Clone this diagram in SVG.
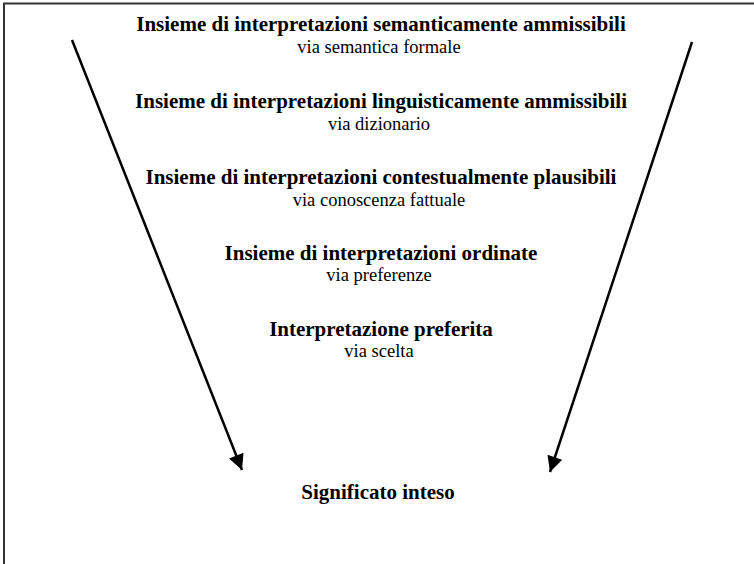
<svg xmlns="http://www.w3.org/2000/svg" width="754" height="564" viewBox="0 0 754 564">
<defs>
<style>
text{font-family:"Liberation Serif","Times New Roman",serif;fill:#000;text-anchor:middle}
.t{font-weight:bold;font-size:21px}
.s{font-size:18.5px}
.c{stroke:#000;stroke-width:2.5;fill:none}
</style>
<marker id="ah" viewBox="0 0 10 10" refX="10" refY="5" markerWidth="7" markerHeight="6.2" markerUnits="strokeWidth" orient="auto">
<path d="M0,0 L10,5 L0,10 z" fill="#000"/>
</marker>
</defs>
<rect width="754" height="564" fill="#fff"/>
<path d="M4,564 V3.5 H754" stroke="#333" stroke-width="2" fill="none"/>
<g id="connectors">
<line class="c" x1="72" y1="40" x2="242" y2="470" marker-end="url(#ah)"/>
<line class="c" x1="692" y1="42" x2="550" y2="472" marker-end="url(#ah)"/>
</g>
<g id="n1"><text class="t" x="381" y="31">Insieme di interpretazioni semanticamente ammissibili</text><text class="s" x="379" y="53">via semantica formale</text></g>
<g id="n2"><text class="t" x="381" y="108">Insieme di interpretazioni linguisticamente ammissibili</text><text class="s" x="379" y="130">via dizionario</text></g>
<g id="n3"><text class="t" x="381" y="184">Insieme di interpretazioni contestualmente plausibili</text><text class="s" x="379" y="206">via conoscenza fattuale</text></g>
<g id="n4"><text class="t" x="381" y="260">Insieme di interpretazioni ordinate</text><text class="s" x="379" y="281">via preferenze</text></g>
<g id="n5"><text class="t" x="381" y="336">Interpretazione preferita</text><text class="s" x="379" y="357">via scelta</text></g>
<g id="n6"><text class="t" x="378" y="499">Significato inteso</text></g>
</svg>
